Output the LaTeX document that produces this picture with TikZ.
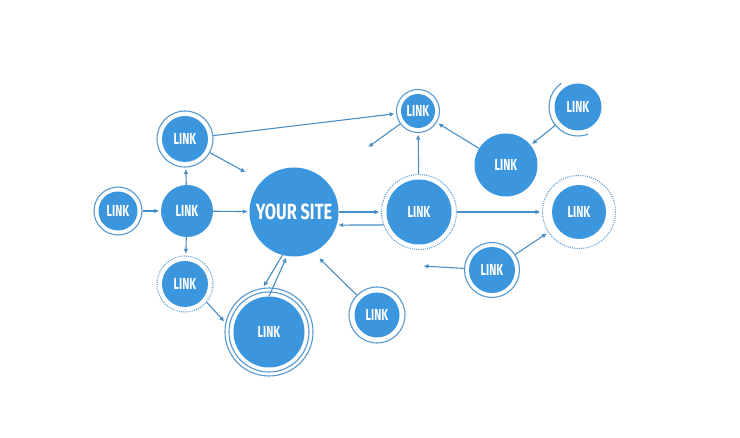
\documentclass[tikz,border=0pt]{standalone}
\usepackage{fontspec}
\newfontfamily\linkfont{Fira Sans}[FakeStretch=0.67]
\newfontfamily\sitefont{Fira Sans}[FakeStretch=0.74]
\usetikzlibrary{arrows.meta}
\definecolor{siteblue}{RGB}{60,150,221}
\definecolor{lineblue}{RGB}{72,142,198}
\definecolor{ringblue}{RGB}{86,152,208}

\begin{document}
\begin{tikzpicture}[x=1pt,y=-1pt,
	hub/.style={circle,fill=siteblue,text=white,inner sep=0pt,
		font=\linkfont\bfseries\fontsize{16}{16}\selectfont},
	ringc/.style={circle,draw=ringblue,line width=1.1pt,inner sep=0pt},
	dotc/.style={ringc,dash pattern=on 1pt off 1.2pt},
	link/.style={draw=lineblue,line width=1.1pt,shorten >=2pt,
		-{Triangle[length=4.5pt,width=4pt]}}]
	\useasboundingbox (0,0) rectangle (740,438);
	% main site
	\node[hub,minimum size=89pt,font=\sitefont\bfseries\fontsize{22}{22}\selectfont] (site) at (294,212) {YOUR SITE};
	% links
	\foreach \n/\x/\y/\d in {l1/118/211/39,l2/187/211/52,l3/185/139/46,l4/185/284/46,
		l5/269/332/71,l6/377/315/45,l7/418/111/34,l8/419/212/65,l9/506/165/63,
		l10/578/107/47,l11/579/212/54,l12/492/270/46}
		\node[hub,minimum size=\d pt] (\n) at (\x,\y) {LINK};
	% rings
	\foreach \n/\d in {l1/48,l3/56,l5/80,l6/56,l7/43,l12/55}
		\node[ringc,minimum size=\d pt] (\n o) at (\n) {};
	\node[ringc,minimum size=88pt] (l5oo) at (l5) {};
	\foreach \n/\d in {l4/56,l8/75,l11/73}
		\node[dotc,minimum size=\d pt] (\n o) at (\n) {};
	\draw[ringblue,line width=1.1pt] (l10) ++(125:29pt) arc[start angle=125,end angle=290,radius=29pt];
	% free ends
	\path (247,173) coordinate (f1)
		(367,148) coordinate (f2)
		(422,266) coordinate (f3)
		(318,257) coordinate (f4);
	% connectors
	\draw[link] (l1o) -- (l2);
	\draw[link] (l2) -- (l3o);
	\draw[link] (l2) -- (l4o);
	\draw[link] (l2) -- (site);
	\draw[link] (l3o) -- (f1);
	\draw[link] (l3o) -- (l7o);
	\draw[link] (l7o) -- (f2);
	\draw[link] (l8o) -- (l7o);
	\draw[link] (l9) -- (l7o);
	\draw[link,shorten <=5pt] (l10) -- (l9);
	\draw[link] (site.east) -- (l8o.west);
	\draw[link] (l8o.-160) -- (site.-17);
	\draw[link] (l8o) -- (l11o);
	\draw[link] (l12o) -- (l11o);
	\draw[link] (l12o) -- (f3);
	\draw[link] (l6o) -- (f4);
	\draw[link] (l4o.-40) -- (l5oo.168);
	\draw[link] (site.-105) -- (l5oo.98);
	\draw[link] (l5.90) -- (site.-99);
\end{tikzpicture}
\end{document}
